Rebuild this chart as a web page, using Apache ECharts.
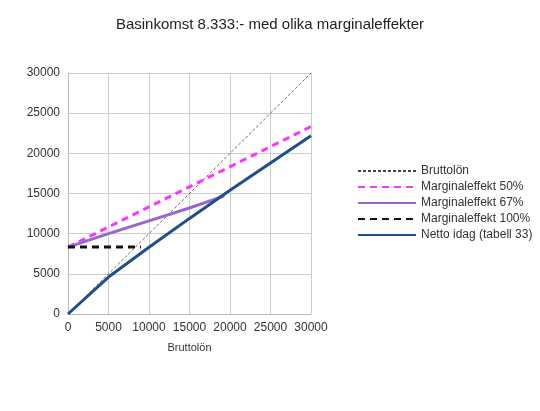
<!DOCTYPE html><html><head><meta charset="utf-8"><script src="https://cdn.jsdelivr.net/npm/echarts@6/dist/echarts.min.js"></script></head><body style="margin:0"><div id="c" style="width:540px;height:411px"></div><script>
const brutto=[[0,0],[30000,30000]];
const m50=[[0,8333],[30000,23333]];
const m67=[[0,8333],[5000,10000],[10000,11600],[15000,13200],[19300,14700]];
const m100=[[0,8333],[9000,8333]];
const netto=[[0,0],[5000,4600],[10000,8300],[15000,11900],[20000,15400],[25000,18800],[30000,22200]];
const c=echarts.init(document.getElementById('c'));
const f='Liberation Sans';
function s(name,data,color,width,type){return {name,type:'line',data,symbol:'none',lineStyle:{color,width,type},itemStyle:{color},z:name==='Bruttolön'?1:2};}
c.setOption({animation:false,textStyle:{fontFamily:f},
title:{text:'Basinkomst 8.333:- med olika marginaleffekter',left:'center',top:12,textStyle:{fontSize:15,fontWeight:'normal',color:'#222',fontFamily:f}},
grid:{left:68,right:229,top:73,bottom:97},
legend:{orient:'vertical',left:352,top:160,itemWidth:58,itemHeight:10,itemGap:4,itemStyle:{opacity:0},textStyle:{fontSize:12,color:'#333'},
data:['Bruttolön','Marginaleffekt 50%','Marginaleffekt 67%','Marginaleffekt 100%','Netto idag (tabell 33)']},
xAxis:{type:'value',min:0,max:30000,interval:5000,name:'Bruttolön',nameLocation:'middle',nameGap:28,nameTextStyle:{fontSize:11,color:'#333'},
axisLine:{lineStyle:{color:'#bbb'}},axisTick:{show:false},axisLabel:{color:'#333',fontSize:12,formatter:v=>String(v)},splitLine:{lineStyle:{color:'#ccc'}}},
yAxis:{type:'value',min:0,max:30000,interval:5000,axisLine:{show:true,lineStyle:{color:'#bbb'}},axisTick:{show:false},axisLabel:{color:'#333',fontSize:12,formatter:v=>String(v)},splitLine:{lineStyle:{color:'#ccc'}}},
series:[s('Bruttolön',brutto,'#444',0.8,[3,2]),s('Marginaleffekt 50%',m50,'#ff33ff',3,[7,5]),s('Marginaleffekt 67%',m67,'#9966cc',3,'solid'),s('Marginaleffekt 100%',m100,'#111',3,[7,5]),s('Netto idag (tabell 33)',netto,'#1f4e8c',3,'solid')]});
</script></body></html>
